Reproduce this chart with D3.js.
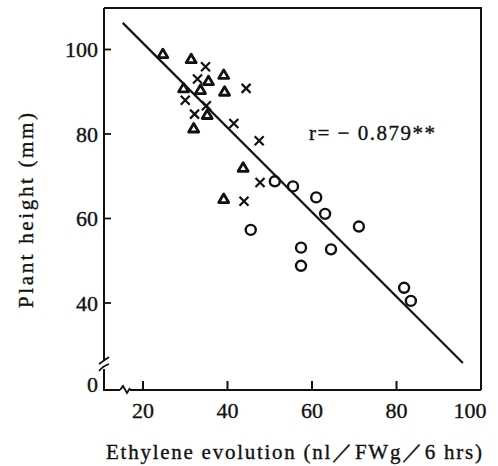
<!DOCTYPE html>
<meta charset="utf-8">
<style>
    body { margin: 0; background: #fff; }
    text { font-family: "Liberation Serif", "DejaVu Serif", serif; fill: #111; stroke: #111; stroke-width: 0.35px; }
</style>
<script src="https://d3js.org/d3.v7.min.js"></script>
<svg id="chart" width="498" height="466"></svg>
<script>
    // data: ethylene (x) vs plant height (y)
    var triX = [24.7, 31.4, 39.1, 35.5, 29.6, 33.6, 39.3, 35.2, 32.0, 43.7, 39.1];
    var triY = [98.9, 97.7, 94.0, 92.5, 90.8, 90.4, 90.0, 84.5, 81.3, 72.0, 64.6];
    var crossX = [34.8, 32.9, 44.4, 30.0, 35.0, 32.2, 41.5, 47.5, 47.7, 43.9];
    var crossY = [95.9, 93.0, 90.8, 88.0, 86.7, 84.7, 82.5, 78.4, 68.5, 64.1];
    var circX = [51.2, 55.5, 61.0, 63.1, 71.1, 45.5, 57.4, 64.5, 57.4, 81.8, 83.4];
    var circY = [68.8, 67.6, 65.0, 61.1, 58.1, 57.3, 53.1, 52.7, 48.8, 43.6, 40.5];
    // regression line end points
    var lineX = [15.2, 95.7];
    var lineY = [106.3, 25.8];
    var xTicks = [20, 40, 60, 80, 100];
    var yTicks = [40, 60, 80, 100];

    var svg = d3.select("#chart");

    var x = d3.scaleLinear().domain([20, 100]).range([143, 481]);
    var y = d3.scaleLinear().domain([40, 100]).range([303, 49.5]);

    // frame edges (don't use "top", it's window.top)
    var fLeft = 104, fTop = 8, fRight = x(100), fBottom = 390;

    var ink = "#111";

    // frame: top and right
    svg.append("path")
        .attr("d", "M" + fLeft + "," + fTop + "H" + fRight + "V" + fBottom)
        .attr("fill", "none").attr("stroke", ink).attr("stroke-width", 2);

    // left + bottom axis with breaks
    svg.append("path")
        .attr("d", "M" + fLeft + "," + fTop + "V361 M" + fLeft + ",369V" + fBottom + "H120 M130," + fBottom + "H" + fRight)
        .attr("fill", "none").attr("stroke", ink).attr("stroke-width", 2);
    svg.append("path")
        .attr("d", "M99,364 L109,357 M99,371 Q103,366 109,364")
        .attr("fill", "none").attr("stroke", ink).attr("stroke-width", 1.8);
    svg.append("path")
        .attr("d", "M120,390 L123,386 L127,393 L130,388")
        .attr("fill", "none").attr("stroke", ink).attr("stroke-width", 1.8);

    // y ticks (inward)
    svg.selectAll(".ytick").data(yTicks).enter().append("line")
        .attr("x1", fLeft).attr("x2", fLeft + 7)
        .attr("y1", function(d) { return y(d); }).attr("y2", function(d) { return y(d); })
        .attr("stroke", ink).attr("stroke-width", 1.8);
    svg.selectAll(".ylab").data(yTicks).enter().append("text")
        .attr("x", fLeft - 6).attr("y", function(d) { return y(d) + 7.5; })
        .attr("text-anchor", "end").attr("font-size", 22)
        .text(function(d) { return d; });
    svg.append("text").attr("x", fLeft - 6).attr("y", 392)
        .attr("text-anchor", "end").attr("font-size", 22).text("0");

    // x ticks (inward)
    svg.selectAll(".xtick").data(xTicks.slice(0, 4)).enter().append("line")
        .attr("x1", function(d) { return x(d); }).attr("x2", function(d) { return x(d); })
        .attr("y1", fBottom).attr("y2", fBottom - 9)
        .attr("stroke", ink).attr("stroke-width", 2);
    svg.selectAll(".xlab").data(xTicks).enter().append("text")
        .attr("x", function(d) { return d === 100 ? x(d) - 11 : x(d); })
        .attr("y", 418)
        .attr("text-anchor", "middle").attr("font-size", 22)
        .text(function(d) { return d; });

    // axis titles
    svg.append("text").attr("x", 106).attr("y", 459)
        .attr("font-size", 21)
        .attr("textLength", 376).attr("lengthAdjust", "spacing")
        .text("Ethylene evolution (nl／FWg／6 hrs)");
    svg.append("text")
        .attr("transform", "translate(33,308) rotate(-90)")
        .attr("font-size", 21)
        .attr("textLength", 195).attr("lengthAdjust", "spacing")
        .text("Plant height (mm)");

    // regression line
    svg.append("line")
        .attr("x1", x(lineX[0])).attr("y1", y(lineY[0]))
        .attr("x2", x(lineX[1])).attr("y2", y(lineY[1]))
        .attr("stroke", ink).attr("stroke-width", 2.2);

    svg.append("text").attr("x", 309).attr("y", 140)
        .attr("font-size", 21)
        .attr("textLength", 126).attr("lengthAdjust", "spacing")
        .text("r= − 0.879**");

    // markers
    var tri = d3.range(triX.length).map(function(i) { return [triX[i], triY[i]]; });
    var crs = d3.range(crossX.length).map(function(i) { return [crossX[i], crossY[i]]; });
    var cir = d3.range(circX.length).map(function(i) { return [circX[i], circY[i]]; });

    svg.selectAll(".tri").data(tri).enter().append("path")
        .attr("d", "M0,-5 L5,3.5 L-5,3.5 Z")
        .attr("transform", function(d) { return "translate(" + x(d[0]) + "," + y(d[1]) + ")"; })
        .attr("fill", "none").attr("stroke", ink).attr("stroke-width", 2.8)
        .attr("stroke-linejoin", "round");

    svg.selectAll(".crs").data(crs).enter().append("path")
        .attr("d", "M-4.5,-4.5 L4.5,4.5 M4.5,-4.5 L-4.5,4.5")
        .attr("transform", function(d) { return "translate(" + x(d[0]) + "," + y(d[1]) + ")"; })
        .attr("fill", "none").attr("stroke", ink).attr("stroke-width", 2.2);

    svg.selectAll(".cir").data(cir).enter().append("circle")
        .attr("cx", function(d) { return x(d[0]); })
        .attr("cy", function(d) { return y(d[1]); })
        .attr("r", 5)
        .attr("fill", "none").attr("stroke", ink).attr("stroke-width", 2.4);
</script>
